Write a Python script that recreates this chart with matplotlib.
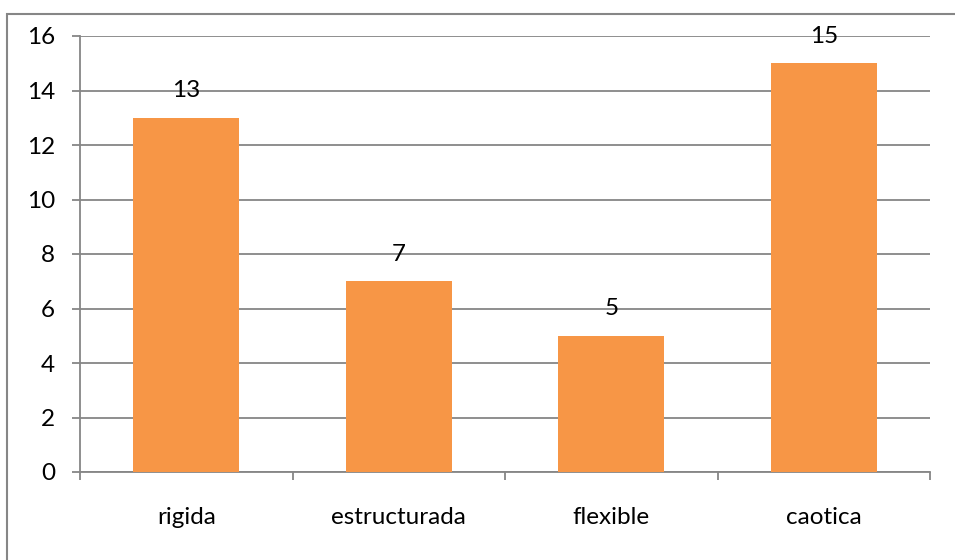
import matplotlib.pyplot as plt
from matplotlib.patches import Rectangle

categories = ["rigida", "estructurada", "flexible", "caotica"]
values = [13, 7, 5, 15]
yticks = [0, 2, 4, 6, 8, 10, 12, 14, 16]

BAR = "#F79646"
GRID = "#868686"

plt.rcParams["font.family"] = ["Lato", "DejaVu Sans"]

fig = plt.figure(figsize=(9.55, 5.6), dpi=100)
ax = fig.add_axes([80 / 955, 1 - 472 / 560, 850 / 955, 436 / 560])

x = list(range(len(categories)))
ax.bar(x, values, width=0.5, color=BAR, zorder=3)
for xi, v in zip(x, values):
    ax.annotate(str(v), (xi, v), xytext=(0, 19.5), textcoords="offset points",
                ha="center", va="center", fontsize=17.5, zorder=4)

ax.set_xlim(-0.5, len(categories) - 0.5)
ax.set_ylim(0, 16)
ax.set_yticks(yticks)
ax.set_xticks(x)
ax.set_xticklabels(categories, fontsize=17.5)
ax.tick_params(axis="y", labelsize=17.5, length=6, width=1.3, color=GRID, pad=12)
ax.tick_params(axis="x", length=0, pad=25)
# category boundary ticks
ax.set_xticks([i - 0.5 for i in range(len(categories) + 1)], minor=True)
ax.tick_params(axis="x", which="minor", length=6, width=1.3, color=GRID, direction="out")

ax.yaxis.grid(True, color=GRID, linewidth=1.3, zorder=0)
for s in ["top", "right"]:
    ax.spines[s].set_visible(False)
ax.spines["left"].set_color(GRID)
ax.spines["bottom"].set_color(GRID)
ax.spines["left"].set_linewidth(1.3)
ax.spines["bottom"].set_linewidth(1.3)

# outer chart border
fig.patches.append(Rectangle((7 / 955, -0.05), 1.0, 1 - 14 / 560 + 0.05,
                             transform=fig.transFigure, fill=False,
                             edgecolor=GRID, linewidth=1.5))

fig.savefig("out.png", dpi=100)
